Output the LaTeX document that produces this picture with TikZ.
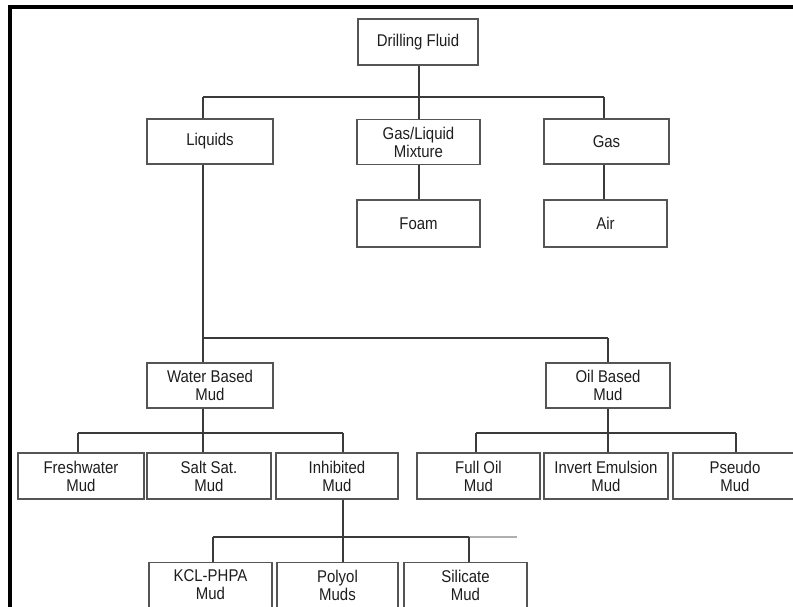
\documentclass[tikz,border=0pt]{standalone}
\usepackage{fontspec}
\setmainfont{Liberation Sans}[FakeStretch=0.88]
\definecolor{linec}{RGB}{58,58,58}
\definecolor{boxc}{RGB}{85,85,85}
\definecolor{textc}{RGB}{30,30,30}
\definecolor{faintc}{RGB}{175,175,175}
\tikzset{
  box/.style={draw=boxc, line width=1.4pt, rectangle, inner sep=0pt, align=center,
    text=textc, font=\fontsize{17}{18}\selectfont, minimum height=45pt},
  conn/.style={draw=linec, line width=1.3pt},
  frame/.style={fill=black}
}
\begin{document}
\begin{tikzpicture}[x=1pt,y=-1pt]
\useasboundingbox (0,0) rectangle (793,607);
\fill[white] (0,0) rectangle (793,607);
% frame
\fill[frame] (8,5) rectangle (793,9);
\fill[frame] (8,5) rectangle (12,607);

% nodes
\node[box, minimum width=120pt, minimum height=46pt] (df) at (418,42) {Drilling Fluid};
\node[box, minimum width=126pt] (liq) at (210,141.5) {Liquids};
\node[box, minimum width=123pt] (gl) at (418.5,142) {Gas/Liquid\\Mixture};
\node[box, minimum width=125pt] (gas) at (606.5,141.5) {Gas};
\node[box, minimum width=123pt, minimum height=47pt] (foam) at (418.5,223.5) {Foam};
\node[box, minimum width=123pt, minimum height=47pt] (air) at (605.5,223.5) {Air};
\node[box, minimum width=126pt] (wbm) at (210,385.5) {Water Based\\Mud};
\node[box, minimum width=124pt] (obm) at (608,385.5) {Oil Based\\Mud};
\node[box, minimum width=126pt, minimum height=46pt] (fw) at (81,476) {Freshwater\\Mud};
\node[box, minimum width=124pt, minimum height=46pt] (ss) at (209,476) {Salt Sat.\\Mud};
\node[box, minimum width=122pt, minimum height=46pt] (inh) at (337,476) {Inhibited\\Mud};
\node[box, minimum width=123pt, minimum height=46pt] (fo) at (478.5,476) {Full Oil\\Mud};
\node[box, minimum width=124pt, minimum height=46pt] (ie) at (606,476) {Invert Emulsion\\Mud};
\node[box, minimum width=124pt, minimum height=46pt] (ps) at (735,476) {Pseudo\\Mud};
\node[box, minimum width=123pt] (kcl) at (210.5,585) {KCL-PHPA\\Mud};
\node[box, minimum width=121pt] (poly) at (337.5,585) {Polyol\\Muds};
\node[box, minimum width=123pt] (sil) at (465.5,585) {Silicate\\Mud};

% bus coordinates
\coordinate (b1L) at (203,97);
\coordinate (b1M) at (419,97);
\coordinate (b1R) at (604,97);
\coordinate (b2L) at (203,338);
\coordinate (b2R) at (608,338);
\coordinate (b3L) at (78,433);
\coordinate (b3M) at (203,433);
\coordinate (b3R) at (343,433);
\coordinate (b4L) at (476,433);
\coordinate (b4M) at (608,433);
\coordinate (b4R) at (736,433);
\coordinate (b5L) at (213,537);
\coordinate (b5M) at (343,537);
\coordinate (b5R) at (469,537);
\coordinate (b5X) at (517,537);

% connectors: level 1
\draw[conn] (df.south -| b1M) -- (b1M);
\draw[conn] (b1L) -- (b1R);
\draw[conn] (b1L) -- (liq.north -| b1L);
\draw[conn] (b1M) -- (gl.north -| b1M);
\draw[conn] (b1R) -- (gas.north -| b1R);
\draw[conn] (gl.south -| b1M) -- (foam.north -| b1M);
\draw[conn] (gas.south -| b1R) -- (air.north -| b1R);
% liquids
\draw[conn] (liq.south -| b2L) -- (b2L);
\draw[conn] (b2L) -- (b2R);
\draw[conn] (b2L) -- (wbm.north -| b2L);
\draw[conn] (b2R) -- (obm.north -| b2R);
% water based
\draw[conn] (wbm.south -| b3M) -- (b3M);
\draw[conn] (b3L) -- (b3R);
\draw[conn] (b3L) -- (fw.north -| b3L);
\draw[conn] (b3M) -- (ss.north -| b3M);
\draw[conn] (b3R) -- (inh.north -| b3R);
% oil based
\draw[conn] (obm.south -| b4M) -- (b4M);
\draw[conn] (b4L) -- (b4R);
\draw[conn] (b4L) -- (fo.north -| b4L);
\draw[conn] (b4M) -- (ie.north -| b4M);
\draw[conn] (b4R) -- (ps.north -| b4R);
% inhibited
\draw[conn] (inh.south -| b5M) -- (b5M);
\draw[conn] (b5L) -- (b5R);
\draw[draw=faintc, line width=1.2pt] (b5R) -- (b5X);
\draw[conn] (b5L) -- (kcl.north -| b5L);
\draw[conn] (b5M) -- (poly.north -| b5M);
\draw[conn] (b5R) -- (sil.north -| b5R);
\end{tikzpicture}
\end{document}
